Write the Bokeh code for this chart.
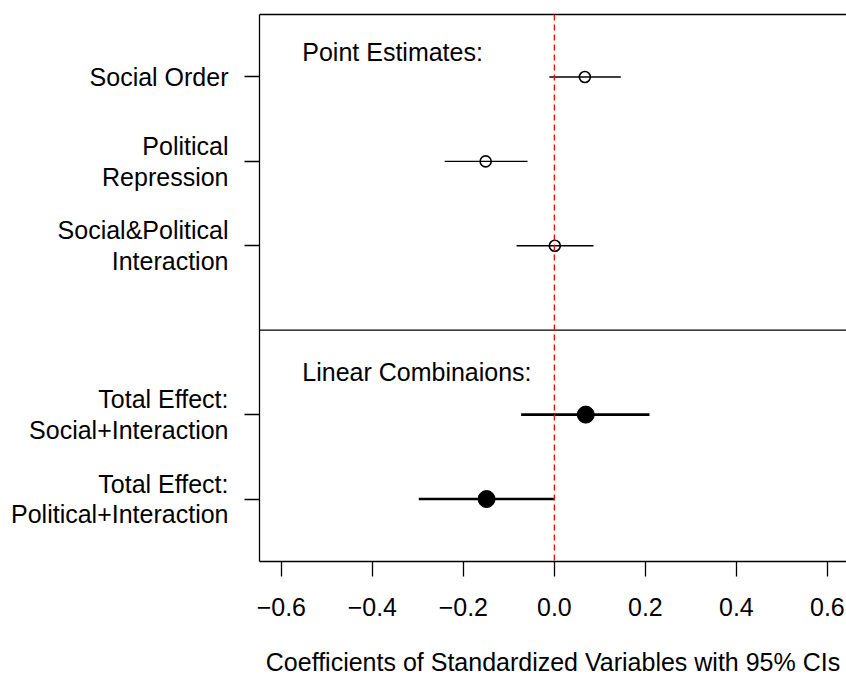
from bokeh.plotting import figure
from bokeh.models import Range1d, FixedTicker, CustomJSTickFormatter, Span, LinearAxis
from bokeh.core.properties import value
from bokeh.embed import file_html
from bokeh.resources import INLINE

# ---- data ----
row_labels = ["Social Order", "Political\nRepression", "Social&Political\nInteraction",
              "Total Effect:\nSocial+Interaction", "Total Effect:\nPolitical+Interaction"]
row_index = [1, 2, 3, 5, 6]
estimates = [0.067, -0.151, 0.001, 0.069, -0.149]
lower = [-0.011, -0.241, -0.083, -0.073, -0.298]
upper = [0.146, -0.059, 0.086, 0.209, -0.001]
x_ticks = [-0.6, -0.4, -0.2, 0.0, 0.2, 0.4, 0.6]
group_titles = ["Point Estimates:", "Linear Combinaions:"]
group_title_rows = [0.7, 4.5]
x_title = "Coefficients of Standardized Variables with 95% CIs"

FONT = "Liberation Sans"
FS = "25px"
LW = 1.3

p = figure(width=846, height=679, output_backend="svg", toolbar_location=None,
           x_range=Range1d(-0.648, 0.642), y_range=Range1d(6.74, 0.26),
           min_border_left=259, min_border_right=0, min_border_top=14, min_border_bottom=118)
p.grid.visible = False
p.background_fill_color = "white"
p.border_fill_color = "white"
p.outline_line_color = None

# x axis
xa = p.xaxis[0]
xa.ticker = FixedTicker(ticks=x_ticks)
xa.formatter = CustomJSTickFormatter(code="""
    const s = Math.abs(tick).toFixed(1);
    return (tick < -1e-9 ? "\u2212" : "") + s;
""")
xa.axis_line_color = "black"
xa.axis_line_width = LW
xa.major_tick_out = 15
xa.major_tick_in = 0
xa.minor_tick_out = 0
xa.minor_tick_in = 0
xa.major_tick_line_color = "black"
xa.major_tick_line_width = LW
xa.major_label_standoff = 21
xa.major_label_text_font = FONT
xa.major_label_text_font_size = FS
xa.major_label_text_color = "black"
xa.axis_label = x_title
xa.axis_label_text_font = FONT
xa.axis_label_text_font_size = FS
xa.axis_label_text_font_style = "normal"
xa.axis_label_text_color = "black"
xa.axis_label_standoff = 29

# y axis
ya = p.yaxis[0]
ya.ticker = FixedTicker(ticks=row_index)
ya.formatter = CustomJSTickFormatter(args=dict(labels=row_labels, pos=row_index), code="""
    for (let i = 0; i < pos.length; i++) {
        if (Math.abs(pos[i] - tick) < 1e-6) return labels[i];
    }
    return "";
""")
ya.axis_line_color = "black"
ya.axis_line_width = LW
ya.major_tick_out = 15
ya.major_tick_in = 0
ya.minor_tick_out = 0
ya.minor_tick_in = 0
ya.major_tick_line_color = "black"
ya.major_tick_line_width = LW
ya.major_label_standoff = 16
ya.major_label_text_font = FONT
ya.major_label_text_font_size = FS
ya.major_label_text_color = "black"
ya.major_label_text_line_height = 1.1

# top edge of the box (axis line only)
top_axis = LinearAxis(ticker=FixedTicker(ticks=[]), axis_line_color="black",
                      axis_line_width=LW, major_tick_out=0, major_tick_in=0,
                      minor_tick_out=0, minor_tick_in=0, major_label_text_font_size="0px")
p.add_layout(top_axis, "above")

# reference lines
p.add_layout(Span(location=4, dimension="width", line_color="black", line_width=LW))
p.add_layout(Span(location=0, dimension="height", line_color="red", line_width=LW,
                  line_dash="6 4"))

# intervals
top = slice(0, 3)
bot = slice(3, 5)
p.segment(x0=lower[top], x1=upper[top], y0=row_index[top], y1=row_index[top],
          line_color="black", line_width=1.4)
p.segment(x0=lower[bot], x1=upper[bot], y0=row_index[bot], y1=row_index[bot],
          line_color="black", line_width=2.6)
p.scatter(x=estimates[top], y=row_index[top], marker="circle", size=11,
          fill_color=None, line_color="black", line_width=1.6)
p.scatter(x=estimates[bot], y=row_index[bot], marker="circle", size=17,
          fill_color="black", line_color="black")

# group titles
p.text(x=[-0.554, -0.554], y=group_title_rows, text=group_titles,
       text_font=value(FONT), text_font_size=FS, text_color="black",
       text_align="left", text_baseline="middle")

open("out.html", "w").write(file_html(p, INLINE))
